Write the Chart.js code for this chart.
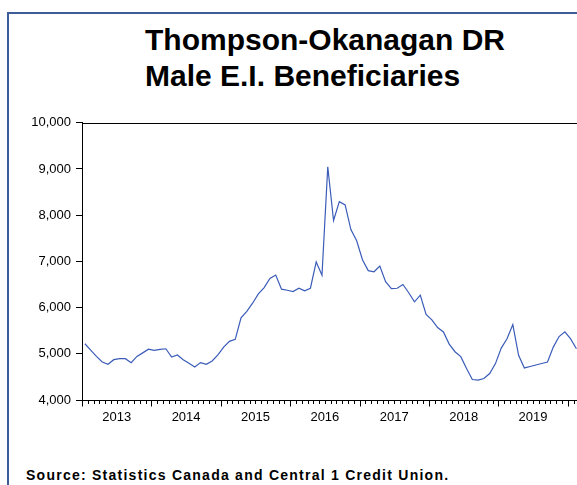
<!DOCTYPE html>
<html><head><meta charset="utf-8">
<script src="https://cdn.jsdelivr.net/npm/chart.js@4.4.1/dist/chart.umd.min.js"></script>
<style>
html,body{margin:0;padding:0;background:#fff;width:577px;height:485px;overflow:hidden;position:relative;}
#frame{position:absolute;left:7px;top:12px;width:620px;height:520px;border-left:2px solid #3d5d99;border-top:2px solid #3d5d99;}
#title{position:absolute;left:145px;top:22px;font:bold 30px/36px "Liberation Sans",Arial,sans-serif;color:#000;white-space:nowrap;}
#source{position:absolute;left:26px;top:468px;font:bold 14px/15px "Liberation Sans",Arial,sans-serif;letter-spacing:1.25px;color:#000;white-space:nowrap;}
#wrap{position:absolute;left:0;top:110px;width:577px;height:330px;}
</style></head>
<body>
<div id="frame"></div>
<div id="title">Thompson-Okanagan DR<br>Male E.I. Beneficiaries</div>
<div id="wrap"><canvas id="c"></canvas></div>
<div id="source">Source: Statistics Canada and Central 1 Credit Union.</div>
<script>
// Year labels on the x axis
const years = ['2013','2014','2015','2016','2017','2018','2019'];
const monthNames = ['Jan','Feb','Mar','Apr','May','Jun','Jul','Aug','Sep','Oct','Nov','Dec'];
// Monthly categories: Jan 2013 .. Feb 2020
const months = [];
['2013','2014','2015','2016','2017','2018','2019','2020'].forEach(y => monthNames.forEach(m => { if (months.length < 86) months.push(m + ' ' + y); }));
// Male E.I. beneficiaries, Thompson-Okanagan DR
const values = [
  5217, 5078, 4945, 4822, 4773, 4873, 4895, 4895, 4809, 4944, 5020, 5101,
  5073, 5095, 5109, 4930, 4973, 4873, 4794, 4715, 4809, 4773, 4844, 4975,
  5145, 5270, 5313, 5780, 5920, 6095, 6295, 6433, 6630, 6705, 6400, 6376,
  6347, 6419, 6362, 6419, 6988, 6700, 9050, 7886, 8294, 8222, 7690, 7445,
  7035, 6800, 6776, 6898, 6560, 6411, 6419, 6500, 6322, 6125, 6269, 5850,
  5735, 5568, 5473, 5210, 5045, 4938, 4680, 4444, 4429, 4465, 4573, 4788,
  5123, 5324, 5632, 4966, 4694, 4726, 4758, 4791, 4823, 5145, 5374, 5474,
  5324, 5110
];
const yMin = 4000, yMax = 10000, yStep = 1000;

const points = values.map((v, i) => ({x: i + 0.5, y: v, label: months[i]}));

const axisPlugin = {
  id: 'axisPlugin',
  afterDraw(chart) {
    const ctx = chart.ctx, a = chart.chartArea, xs = chart.scales.x;
    ctx.save();
    ctx.strokeStyle = '#000';
    ctx.lineWidth = 1;
    const top = Math.round(a.top) + 0.5, bot = Math.round(a.bottom) + 0.5;
    ctx.beginPath();
    ctx.moveTo(a.left, top); ctx.lineTo(a.right, top);
    ctx.moveTo(a.left, bot); ctx.lineTo(a.right, bot);
    for (let k = 0; k <= months.length; k++) {
      const px = Math.round(xs.getPixelForValue(k)) + 0.5;
      if (px > a.right) break;
      const len = (k % 12 === 0) ? 6 : 3.5;
      ctx.moveTo(px, bot); ctx.lineTo(px, bot + len);
    }
    ctx.stroke();
    ctx.restore();
  }
};

const font = {family: '"Liberation Sans", Arial, sans-serif', size: 13};
new Chart(document.getElementById('c'), {
  type: 'line',
  data: {datasets: [{data: points, borderColor: '#3a5cb8', borderWidth: 1.2, pointRadius: 0, tension: 0, fill: false}]},
  options: {
    responsive: true, maintainAspectRatio: false, animation: false,
    layout: {padding: {top: 10, right: 0, left: 0, bottom: 0}},
    plugins: {legend: {display: false}, tooltip: {enabled: false}},
    scales: {
      x: {
        type: 'linear', min: 0, max: 85.6,
        afterBuildTicks: s => { s.ticks = years.map((y, k) => ({value: 12 * k + 6})); },
        ticks: {callback: (v, i) => years[i], autoSkip: false, maxRotation: 0, padding: 10, color: '#000', font: font},
        grid: {display: false, drawTicks: false},
        border: {display: false},
        afterFit: s => { s.height = 40; }
      },
      y: {
        min: yMin, max: yMax,
        ticks: {stepSize: yStep, padding: 5, color: '#000', font: font},
        grid: {drawOnChartArea: false, tickLength: 6, color: '#000'},
        border: {color: '#000', width: 1},
        afterFit: s => { s.width = 82; }
      }
    }
  },
  plugins: [axisPlugin]
});
</script>
</body></html>
